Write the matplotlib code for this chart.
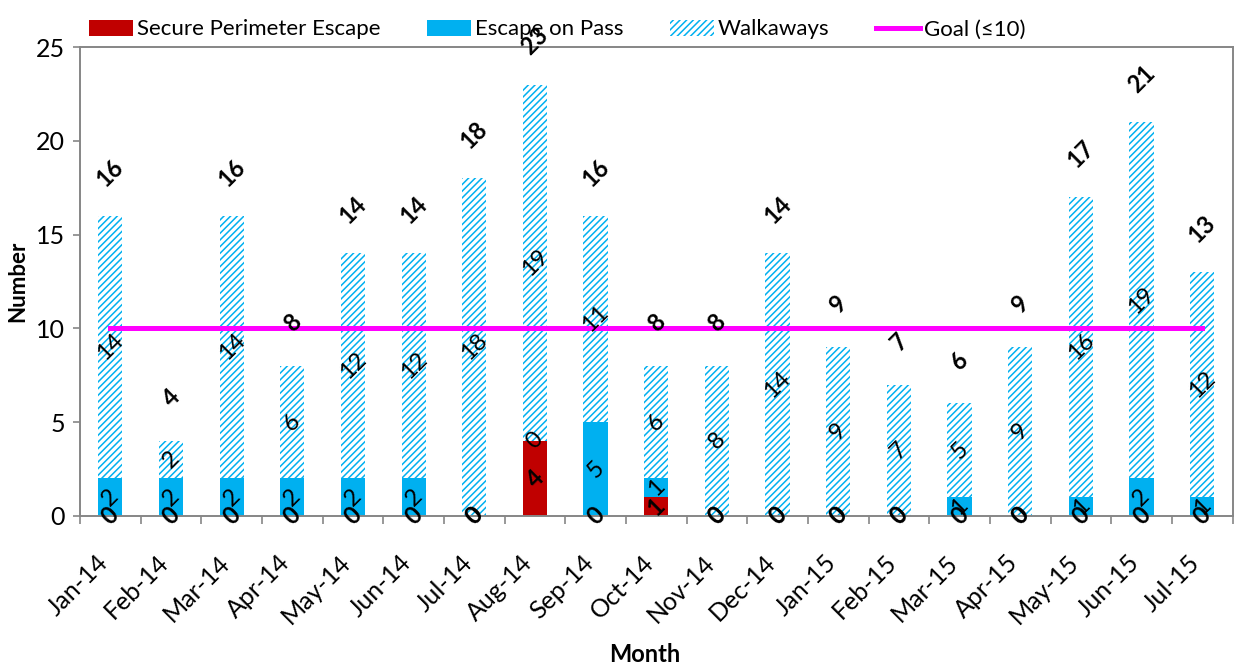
import matplotlib
matplotlib.use("Agg")
import matplotlib.pyplot as plt
from matplotlib.patches import Patch
from matplotlib.lines import Line2D
from matplotlib.transforms import ScaledTranslation
import numpy as np

plt.rcParams['font.family'] = ['Lato', 'DejaVu Sans']
plt.rcParams['hatch.linewidth'] = 1.1

months = ["Jan-14", "Feb-14", "Mar-14", "Apr-14", "May-14", "Jun-14", "Jul-14",
          "Aug-14", "Sep-14", "Oct-14", "Nov-14", "Dec-14", "Jan-15", "Feb-15",
          "Mar-15", "Apr-15", "May-15", "Jun-15", "Jul-15"]
secure_escape = [0, 0, 0, 0, 0, 0, 0, 4, 0, 1, 0, 0, 0, 0, 0, 0, 0, 0, 0]
escape_on_pass = [2, 2, 2, 2, 2, 2, 0, 0, 5, 1, 0, 0, 0, 0, 1, 0, 1, 2, 1]
walkaways = [14, 2, 14, 6, 12, 12, 18, 19, 11, 6, 8, 14, 9, 7, 5, 9, 16, 19, 12]
goal = 10
yticks = [0, 5, 10, 15, 20, 25]

RED = "#C00000"
BLUE = "#00B0F0"
MAGENTA = "#FF00FF"
GREY = "#868686"

sec = np.array(secure_escape)
pas = np.array(escape_on_pass)
wlk = np.array(walkaways)
totals = sec + pas + wlk
x = np.arange(len(months))

fig = plt.figure(figsize=(12.35, 6.69), dpi=100)
ax = fig.add_axes([0.0648, 0.2287, 0.9332, 0.701])

w = 0.4
ax.bar(x, sec, w, color=RED, linewidth=0, zorder=2)
ax.bar(x, pas, w, bottom=sec, color=BLUE, linewidth=0, zorder=2)
ax.bar(x, wlk, w, bottom=sec + pas, facecolor="white", edgecolor=BLUE,
       hatch="/////", linewidth=0, zorder=2)

ax.plot([x[0], x[-1]], [goal, goal], color=MAGENTA, linewidth=3.6, zorder=3)

lab_fs = 17
for i in x:
    ax.text(i, sec[i] / 2, str(sec[i]), rotation=45, ha="center", va="center",
            fontsize=lab_fs, fontweight="bold", zorder=5)
    ax.text(i, sec[i] + pas[i] / 2, str(pas[i]), rotation=45, ha="center",
            va="center", fontsize=lab_fs, zorder=5)
    ax.text(i, sec[i] + pas[i] + wlk[i] / 2, str(wlk[i]), rotation=45,
            ha="center", va="center", fontsize=lab_fs, zorder=5)
    ax.annotate(str(totals[i]), (i, totals[i]), xytext=(0, 31),
                textcoords="offset points", rotation=45, ha="center",
                va="center", fontsize=lab_fs, fontweight="bold", zorder=5)

ax.set_xlim(-0.5, len(months) - 0.5)
ax.set_ylim(0, 25)
ax.set_yticks(yticks)
ax.tick_params(axis="y", labelsize=18, length=5, color=GREY, width=1.2, pad=6)
ax.set_xticks(x)
ax.set_xticklabels(months, rotation=45, ha="right", rotation_mode="anchor",
                   fontsize=18)
ax.tick_params(axis="x", which="major", length=0, pad=25)
shift = ScaledTranslation(-14 / 100, 0, fig.dpi_scale_trans)
for lbl in ax.get_xticklabels():
    lbl.set_transform(lbl.get_transform() + shift)
ax.set_xticks(np.arange(-0.5, len(months), 1), minor=True)
ax.tick_params(axis="x", which="minor", length=6, color=GREY, width=1.2)

for s in ax.spines.values():
    s.set_color(GREY)
    s.set_linewidth(1.4)

ax.set_ylabel("Number", fontsize=16, fontweight="bold")
ax.yaxis.set_label_coords(-0.045, 0.5)
fig.text(0.522, 0.022, "Month", ha="center", va="center", fontsize=17,
         fontweight="bold")

handles = [
    Patch(facecolor=RED, linewidth=0),
    Patch(facecolor=BLUE, linewidth=0),
    Patch(facecolor="white", edgecolor=BLUE, hatch="/////", linewidth=0),
    Line2D([0], [0], color=MAGENTA, linewidth=3.6),
]
labels = ["Secure Perimeter Escape", "Escape on Pass", "Walkaways", "Goal (≤10)"]
ax.legend(handles, labels, loc="lower center", bbox_to_anchor=(0.414, 0.99),
          ncol=4, frameon=False, fontsize=16, handlelength=2.0,
          handleheight=0.75, handletextpad=0.15, columnspacing=2.1,
          borderaxespad=0.15)

fig.savefig("out.png", dpi=100)
